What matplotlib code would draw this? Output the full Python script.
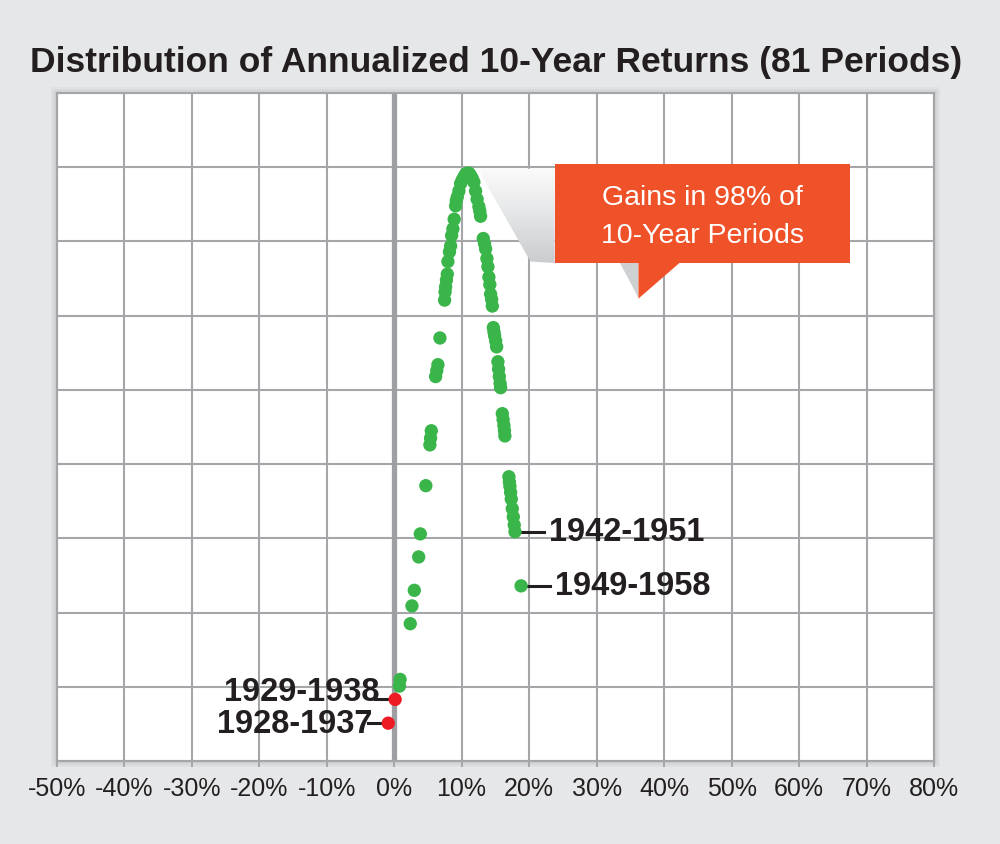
import numpy as np
import matplotlib
matplotlib.use('Agg')
import matplotlib.pyplot as plt
from matplotlib.patches import Polygon, Rectangle
from matplotlib.colors import LinearSegmentedColormap

# Annualized 10-year returns (%) and their vertical position in the curve
loss_returns = [-0.87, 0.15]
loss_pos = [0.51, 0.83]
loss_labels = ['1928-1937', '1929-1938']

gain_returns = [
    0.79, 0.89, 2.39, 2.64, 2.99, 3.64, 3.88, 4.70, 5.30, 5.40,
    5.51, 6.15, 6.32, 6.49, 6.79, 7.48, 7.55, 7.63, 7.75, 7.88,
    7.97, 8.20, 8.37, 8.52, 8.71, 8.90, 9.11, 9.22, 9.36, 9.60,
    9.85, 10.10, 10.34, 10.60, 10.84, 11.10,
    11.33, 11.58, 11.82, 12.07, 12.30, 12.56, 12.70, 12.81, 13.21, 13.40,
    13.56, 13.75, 13.90, 14.04, 14.18, 14.30, 14.45, 14.55, 14.70, 14.80,
    14.89, 15.05, 15.19, 15.38, 15.48, 15.59, 15.70, 15.78, 16.03, 16.15,
    16.27, 16.35, 16.41, 17.01, 17.08, 17.16, 17.26, 17.36, 17.51, 17.66,
    17.80, 17.91, 18.81,
]
gain_pos = [
    1.01, 1.10, 1.85, 2.09, 2.30, 2.75, 3.06, 3.71, 4.26, 4.35,
    4.45, 5.18, 5.26, 5.34, 5.70, 6.21, 6.32, 6.39, 6.48, 6.56,
    6.73, 6.86, 6.94, 7.08, 7.17, 7.30, 7.48, 7.55, 7.60, 7.68,
    7.78, 7.83, 7.87, 7.91, 7.92, 7.92,
    7.89, 7.85, 7.80, 7.68, 7.57, 7.47, 7.41, 7.34, 7.04, 6.97,
    6.90, 6.77, 6.66, 6.52, 6.42, 6.29, 6.22, 6.13, 5.84, 5.78,
    5.73, 5.66, 5.58, 5.38, 5.28, 5.18, 5.09, 5.03, 4.68, 4.60,
    4.52, 4.45, 4.38, 3.83, 3.76, 3.70, 3.62, 3.53, 3.40, 3.29,
    3.18, 3.09, 2.36,
]
# labelled gain periods: index into gain lists
gain_labels = {77: '1942-1951', 78: '1949-1958'}

x_ticks = list(range(-50, 81, 10))
x_ticklabels = [f'{v}%' for v in x_ticks]

title = 'Distribution of Annualized 10-Year Returns (81 Periods)'
callout = 'Gains in 98% of\n10-Year Periods'

bg = '#e6e7e8'
grid_c = '#a4a6a9'
green = '#3ab54a'
red = '#ed1c24'
orange = '#ef5228'
dark = '#231f20'
font = ['Liberation Sans', 'DejaVu Sans']

fig = plt.figure(figsize=(10, 8.45), dpi=100, facecolor=bg)
ax_rect = [0.0567, 0.0982, 0.8773, 0.7905]

# soft drop shadow around plot frame
for i in range(4):
    d = (i + 1) * 1.5
    fig.patches.append(Rectangle((ax_rect[0] - d / 1000, ax_rect[1] - d / 845),
                                 ax_rect[2] + 2 * d / 1000, ax_rect[3] + 2 * d / 845,
                                 transform=fig.transFigure, facecolor='black',
                                 edgecolor='none', alpha=0.025, zorder=-1))

ax = fig.add_axes(ax_rect, zorder=1)
ax.set_facecolor('white')
ax.set_xticks(x_ticks)
ax.set_xticklabels(x_ticklabels, fontfamily=font, fontsize=18, color=dark)
ax.set_yticks(range(0, 10))
ax.set_yticklabels([])
ax.tick_params(axis='x', length=4, width=1.4, color=grid_c, pad=7)
ax.tick_params(axis='y', length=0)
ax.grid(True, color=grid_c, linewidth=1.5, zorder=0)
ax.set_axisbelow(True)
for sp in ax.spines.values():
    sp.set_color(grid_c)
    sp.set_linewidth(1.5)
ax.axvline(0, color='#9d9fa2', linewidth=3.8, zorder=1)

# callout shadow (gradient clipped to a polygon)
shade = LinearSegmentedColormap.from_list('shade', ['#fbfbfb', '#e4e5e6', '#cbcccd'])
shadow = Polygon([(12.4, 7.98), (23.8, 7.98), (23.8, 6.71), (20.2, 6.73)],
                 closed=True, facecolor='none', edgecolor='none')
ax.add_patch(shadow)
grad = np.linspace(0, 1, 100).reshape(-1, 1)
grad = np.hstack([grad, grad])
im = ax.imshow(grad, extent=(12.4, 23.8, 6.71, 7.98), cmap=shade, vmin=0, vmax=1,
               aspect='auto', origin='upper', zorder=1.5)
im.set_clip_path(shadow)
ax.add_patch(Polygon([(33.5, 6.71), (36.2, 6.71), (36.2, 6.25)], closed=True,
                     facecolor='#cfd0d2', edgecolor='none', zorder=1.5))
ax.set_xlim(-50, 80)
ax.set_ylim(0, 9)

# callout box
ax.add_patch(Rectangle((23.8, 6.71), 43.8, 1.34, facecolor=orange, edgecolor='none', zorder=3))
ax.add_patch(Polygon([(36.2, 6.72), (42.4, 6.72), (36.2, 6.23)], closed=True,
                     facecolor=orange, edgecolor='none', zorder=3))
ax.text(45.7, 7.35, callout, ha='center', va='center', color='white', fontsize=20.5,
        fontfamily=font, linespacing=1.6, zorder=4)

# points
ax.scatter(gain_returns, gain_pos, s=92, color=green, edgecolors='none', zorder=5)
ax.scatter(loss_returns, loss_pos, s=92, color=red, edgecolors='none', zorder=5)

# labels
for i, lab in gain_labels.items():
    x, y = gain_returns[i], gain_pos[i]
    ax.plot([x + 1.0, x + 4.3], [y, y], color=dark, linewidth=2.2, zorder=4)
    ax.text(x + 5.0, y, lab, ha='left', va='center', fontsize=23.5, fontweight='bold',
            fontfamily=font, color=dark, zorder=4)
for x, y, lab, dy in zip(loss_returns, loss_pos, loss_labels, [0.0, 0.1]):
    ax.plot([x - 3.0, x - 0.8], [y, y], color=dark, linewidth=2.2, zorder=4)
    ax.text(x - 2.3, y + dy, lab, ha='right', va='center', fontsize=23.5, fontweight='bold',
            fontfamily=font, color=dark, zorder=4)

fig.text(0.496, 0.9266, title, ha='center', va='center', fontsize=25.5,
         fontweight='bold', fontfamily=font, color=dark)

fig.savefig('out.png', dpi=100, facecolor=bg)
